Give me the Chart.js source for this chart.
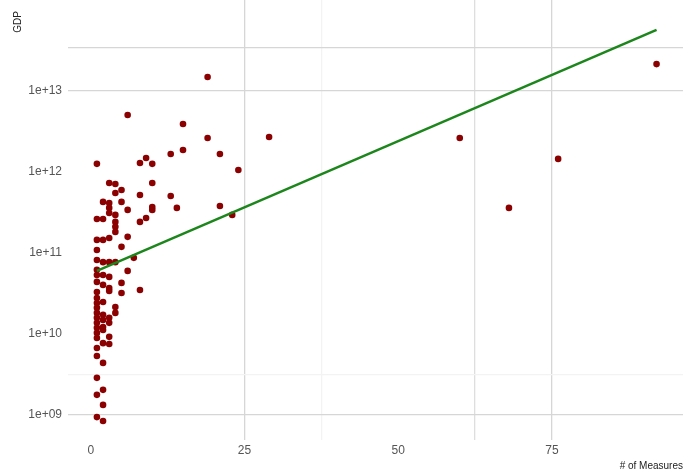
<!DOCTYPE html>
<html>
<head>
<meta charset="utf-8">
<script src="https://cdn.jsdelivr.net/npm/chart.js@4/dist/chart.umd.min.js"></script>
<style>
  html, body { margin: 0; padding: 0; background: #fff; }
  #chart { display: block; }
</style>
</head>
<body>
<canvas id="chart" width="683" height="472"></canvas>
<script>
// # of measures per country (x) and GDP (y, log scale)
const measures = [
  92, 60, 76, 68, 19, 6, 15, 29, 19, 15, 13, 21, 24, 1, 8, 9, 10,
  3, 4, 10, 5, 4, 8, 13, 2, 5, 3, 3, 6, 10, 10, 14, 21, 23,
  1, 2, 9, 4, 8, 3, 4, 4, 4, 6, 1, 2, 3, 5, 1, 1, 2, 3, 4, 7,
  1, 6, 1, 2, 3, 1, 2, 3, 5, 8, 1, 3, 5, 1, 1, 2, 4, 4, 3, 3,
  1, 1, 1, 1, 1, 1, 2, 2, 3, 3, 2, 1, 1, 1, 2, 1, 2, 1, 2, 1, 2, 2, 2
];
const gdp = [
  2.15e13, 2.63e12, 1.45e12, 3.6e11, 1.49e13, 5.06e12, 3.92e12, 2.7e12, 2.63e12, 1.87e12, 1.67e12, 1.67e12, 1.06e12, 1.26e12, 1.29e12, 1.49e12, 1.26e12,
  7.3e11, 7.1e11, 7.3e11, 6.0e11, 5.5e11, 5.2e11, 5.06e11, 4.27e11, 4.27e11, 4.14e11, 3.6e11, 3.4e11, 3.7e11, 3.4e11, 3.6e11, 3.8e11, 2.95e11,
  2.63e11, 2.63e11, 2.7e11, 2.42e11, 2.42e11, 3.12e11, 2.95e11, 2.1e11, 1.82e11, 1.58e11, 1.45e11, 1.45e11, 1.53e11, 1.19e11, 1.09e11, 8.2e10, 7.7e10, 7.7e10, 7.7e10, 8.7e10,
  6.2e10, 6.0e10, 5.35e10, 5.35e10, 5.06e10, 4.39e10, 4.03e10, 3.7e10, 4.27e10, 3.49e10, 3.3e10, 3.4e10, 3.2e10, 2.78e10, 2.41e10, 2.48e10, 2.15e10, 1.82e10, 1.58e10, 1.37e10,
  2.1e10, 1.82e10, 1.58e10, 1.37e10, 1.19e10, 1.03e10, 1.22e10, 1.12e10, 9.2e9, 7.5e9, 7.7e9, 8.9e9, 6.7e9, 5.35e9, 4.39e9, 2.87e9, 2.04e9, 1.77e9, 1.33e9, 9.4e8, 8.4e8, 1.72e10, 1.49e10
];

// fitted exponential trend (straight on the log axis)
const trendX = [1, 92];
const trendY = [6.0e10, 5.7e13];

const xTicks = [0, 25, 50, 75];
const xGridOnly = [37.5, 62.5];
const yTicks = [1e9, 1e10, 1e11, 1e12, 1e13];
const yTickLabels = ['1e+09', '1e+10', '1e+11', '1e+12', '1e+13'];
const yGridOnly = [3.1e9, 3.4e13];

const points = measures.map((m, i) => ({ x: m, y: gdp[i] }));
const trend = trendX.map((t, i) => ({ x: t, y: trendY[i] }));

function xGridColor(v) {
  if (v === 25 || v === 75) return '#d6d6d6';
  if (v === 62.5) return '#dedede';
  if (v === 37.5) return '#f3f3f3';
  return 'rgba(0,0,0,0)';
}
function yGridColor(v) {
  if (v === 1e9 || v === 1e13 || v === 3.4e13) return '#d6d6d6';
  if (v === 3.1e9) return '#f3f3f3';
  return 'rgba(0,0,0,0)';
}

new Chart(document.getElementById('chart'), {
  type: 'scatter',
  data: {
    datasets: [
      {
        label: 'trend',
        type: 'line',
        data: trend,
        borderColor: '#1c861c',
        borderWidth: 2.5,
        pointRadius: 0,
        fill: false,
        order: 1
      },
      {
        label: 'countries',
        data: points,
        backgroundColor: '#8b0000',
        borderWidth: 0,
        pointRadius: 3.3,
        order: 2
      }
    ]
  },
  options: {
    responsive: false,
    animation: false,
    layout: { padding: 0, autoPadding: false },
    plugins: { legend: { display: false }, tooltip: { enabled: false } },
    scales: {
      x: {
        type: 'linear',
        min: -3.7,
        max: 96.3,
        afterFit: s => {
          s.height = 32;
          s.paddingLeft = 0;
          s.paddingRight = 0;
        },
        afterBuildTicks: s => {
          s.ticks = xTicks.concat(xGridOnly).sort((a, b) => a - b).map(v => ({ value: v }));
        },
        ticks: {
          padding: 3,
          color: '#555',
          font: { family: 'Liberation Sans', size: 12 },
          callback: v => xTicks.includes(v) ? String(v) : ''
        },
        grid: {
          drawTicks: false,
          lineWidth: 1.3,
          color: ctx => ctx.tick ? xGridColor(ctx.tick.value) : 'rgba(0,0,0,0)'
        },
        border: { display: false },
        title: {
          display: true,
          text: '# of Measures',
          align: 'end',
          color: '#222',
          font: { family: 'Liberation Sans', size: 10 },
          padding: { top: 0, bottom: 0 }
        }
      },
      y: {
        type: 'logarithmic',
        min: 4.9e8,
        max: 1.33e14,
        afterFit: s => {
          s.width = 68;
          s.paddingTop = 0;
          s.paddingBottom = 0;
        },
        afterBuildTicks: s => {
          s.ticks = yTicks.concat(yGridOnly).sort((a, b) => a - b).map(v => ({ value: v }));
        },
        ticks: {
          padding: 6,
          color: '#555',
          font: { family: 'Liberation Sans', size: 12 },
          callback: v => {
            const i = yTicks.indexOf(v);
            return i >= 0 ? yTickLabels[i] : '';
          }
        },
        grid: {
          drawTicks: false,
          lineWidth: 1.3,
          color: ctx => ctx.tick ? yGridColor(ctx.tick.value) : 'rgba(0,0,0,0)'
        },
        border: { display: false },
        title: {
          display: true,
          text: 'GDP    ',
          align: 'end',
          color: '#222',
          font: { family: 'Liberation Sans', size: 10 },
          padding: { top: 12, bottom: 0 }
        }
      }
    }
  }
});
</script>
</body>
</html>
